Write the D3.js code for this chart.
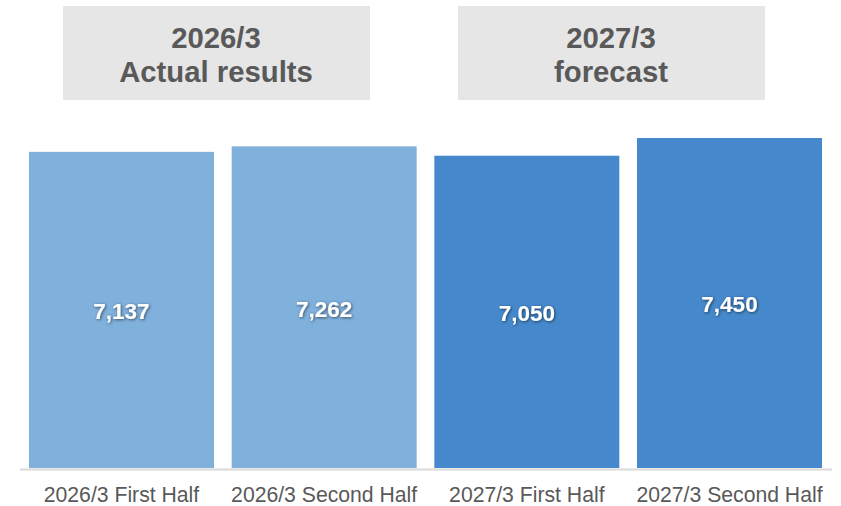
<!DOCTYPE html>
<html>
<head>
<meta charset="utf-8">
<script src="https://cdn.jsdelivr.net/npm/d3@7/dist/d3.min.js"></script>
<style>
  html, body { margin: 0; padding: 0; background: #fff; }
  svg { display: block; font-family: Arial, "Liberation Sans", sans-serif; }
</style>
</head>
<body>
<svg id="chart" width="841" height="506"></svg>
<script>
// Half-year figures
const categories = ["2026/3 First Half", "2026/3 Second Half", "2027/3 First Half", "2027/3 Second Half"];
const values = [7137, 7262, 7050, 7450];
const periodType = ["actual", "actual", "forecast", "forecast"];

// Period headers
const headerLines = [["2026/3", "Actual results"], ["2027/3", "forecast"]];

const W = 841, H = 506;
const baseY = 468;
const svg = d3.select("#chart");

const colors = { actual: "#80b0dc", forecast: "#4589cc" };

// Drop shadow for value labels
const defs = svg.append("defs");
const f = defs.append("filter").attr("id", "shadow")
  .attr("x", "-20%").attr("y", "-30%").attr("width", "140%").attr("height", "160%");
f.append("feDropShadow").attr("dx", 0.8).attr("dy", 0.8)
  .attr("stdDeviation", 1.4).attr("flood-color", "#000").attr("flood-opacity", 0.6);

const x = d3.scaleBand()
  .domain(categories)
  .range([20, 831])
  .paddingInner(0.0872)
  .paddingOuter(0.0444);

const y = d3.scaleLinear()
  .domain([0, d3.max(values)])
  .range([baseY, 138]);

// Header boxes
const headers = [
  { x: 63, y: 6, w: 307, h: 94 },
  { x: 458, y: 6, w: 307, h: 94 }
];
headers.forEach((hd, i) => {
  svg.append("rect").attr("x", hd.x).attr("y", hd.y)
    .attr("width", hd.w).attr("height", hd.h).attr("fill", "#e6e6e6");
  const t = svg.append("text")
    .attr("text-anchor", "middle")
    .attr("fill", "#595959")
    .attr("font-weight", "bold")
    .attr("font-size", 29.3);
  headerLines[i].forEach((line, j) => {
    t.append("tspan").attr("x", hd.x + hd.w / 2 - 0.5).attr("y", 47.5 + j * 34).text(line);
  });
});

// Bars
svg.append("g").selectAll("rect")
  .data(categories)
  .join("rect")
  .attr("x", d => x(d))
  .attr("y", (d, i) => y(values[i]))
  .attr("width", x.bandwidth())
  .attr("height", (d, i) => baseY - y(values[i]))
  .attr("fill", (d, i) => colors[periodType[i]]);

// Baseline
svg.append("line")
  .attr("x1", 20).attr("x2", 832)
  .attr("y1", baseY + 1.5).attr("y2", baseY + 1.5)
  .attr("stroke", "#d9d9d9").attr("stroke-width", 2);

// Value labels
const fmt = d3.format(",");
svg.append("g").selectAll("text")
  .data(categories)
  .join("text")
  .attr("x", d => x(d) + x.bandwidth() / 2)
  .attr("y", (d, i) => (y(values[i]) + baseY) / 2 + 1.5)
  .attr("dy", "0.35em")
  .attr("text-anchor", "middle")
  .attr("fill", "#fff")
  .attr("font-weight", "bold")
  .attr("font-size", 22.5)
  .attr("filter", "url(#shadow)")
  .text((d, i) => fmt(values[i]));

// Category axis labels
svg.append("g").selectAll("text")
  .data(categories)
  .join("text")
  .attr("x", d => x(d) + x.bandwidth() / 2)
  .attr("y", 502)
  .attr("text-anchor", "middle")
  .attr("fill", "#595959")
  .attr("font-size", 21.2)
  .text(d => d);
</script>
</body>
</html>
